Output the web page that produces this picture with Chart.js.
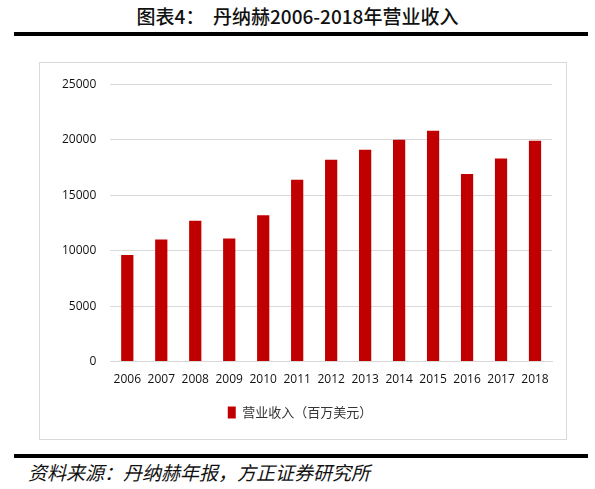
<!DOCTYPE html>
<html><head><meta charset="utf-8">
<script src="https://cdn.jsdelivr.net/npm/chart.js@4/dist/chart.umd.min.js"></script>
<style>
body{margin:0;background:#fff;width:595px;height:489px;position:relative;font-family:"Noto Sans CJK SC",sans-serif;overflow:hidden}
#title{position:absolute;top:2px;left:0;width:595px;text-align:center;font-size:19px;font-weight:500;color:#111}
.rule{position:absolute;left:14px;width:574px;height:4px;background:#000}
#box{position:absolute;left:39px;top:62px;width:528px;height:378px;border:1px solid #d9d9d9;box-sizing:border-box}
#src{position:absolute;left:28px;top:458px;font-size:19px;font-style:italic;color:#111;font-family:"Noto Sans CJK SC",serif}
</style></head><body>
<div id="title">图表4：&nbsp;&nbsp;丹纳赫2006-2018年营业收入</div>
<div class="rule" style="top:32px"></div>
<div id="box"><canvas id="c" width="526" height="376"></canvas></div>
<div class="rule" style="top:454px"></div>
<div id="src">资料来源：丹纳赫年报，方正证券研究所</div>
<script>
const years = ['2006','2007','2008','2009','2010','2011','2012','2013','2014','2015','2016','2017','2018']
const revenue = [9600, 11000, 12700, 11100, 13200, 16400, 18200, 19100, 20000, 20800, 16900, 18300, 19900]
const seriesName = '营业收入（百万美元）'
const tickFont = { size: 12, family: '"Liberation Sans Narrow", "Open Sans"' }

const ctx = document.getElementById('c').getContext('2d')
new Chart(ctx, {
    type: 'bar',
    data: {
        labels: years,
        datasets: [{
            label: seriesName,
            data: revenue,
            backgroundColor: '#c00000',
            barPercentage: 0.72,
            categoryPercentage: 0.5
        }]
    },
    options: {
        responsive: false,
        animation: false,
        layout: { padding: { left: 8, right: 14, top: 12, bottom: 10 } },
        plugins: {
            legend: {
                position: 'bottom',
                labels: { boxWidth: 8, boxHeight: 12, color: '#333', font: { size: 13, family: 'Noto Sans CJK SC' }, padding: 16 }
            },
            tooltip: { enabled: false }
        },
        scales: {
            x: {
                grid: { display: false },
                border: { color: '#d9d9d9' },
                ticks: { color: '#111', font: tickFont, maxRotation: 0 }
            },
            y: {
                min: 0, max: 25000,
                ticks: { stepSize: 5000, color: '#111', font: tickFont, padding: 14, callback: v => String(v) },
                grid: { color: '#d9d9d9', drawTicks: false },
                border: { display: false }
            }
        }
    }
})
</script>
</body></html>
